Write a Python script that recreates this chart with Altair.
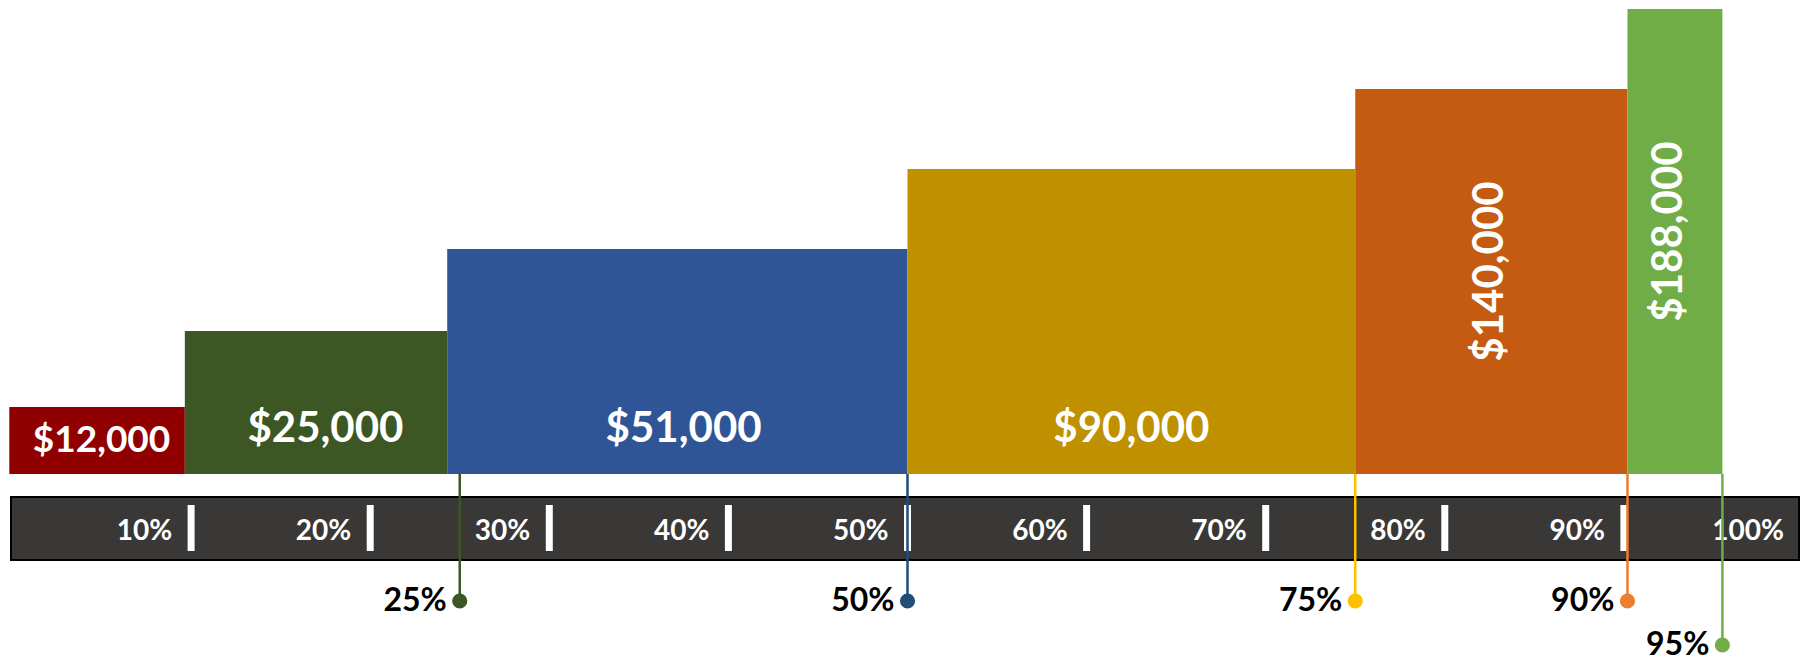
import altair as alt
import pandas as pd

# ---- data ----
income_labels = ["$12,000", "$25,000", "$51,000", "$90,000", "$140,000", "$188,000"]
incomes = [12000, 25000, 51000, 90000, 140000, 188000]
bracket_lo = [0, 10, 25, 50, 75, 90]
bracket_hi = [10, 25, 50, 75, 90, 95]
bar_left = [-0.15, 9.65, 24.3, 50.0, 75.0, 90.2]
bar_right = [9.65, 24.3, 50.0, 75.0, 90.2, 95.5]
bar_height = [67, 143, 225, 305, 385, 465]

tick_values = [10, 20, 30, 40, 50, 60, 70, 80, 90, 100]
tick_labels = ["10%", "20%", "30%", "40%", "50%", "60%", "70%", "80%", "90%", "100%"]

marker_labels = ["25%", "50%", "75%", "90%", "95%"]
marker_pos = [25.0, 50.0, 75.0, 90.2, 95.5]
marker_row = [0, 0, 0, 0, 1]

# ---- styles ----
bar_colors = ["#900000", "#3c5724", "#2f5597", "#bf9000", "#c55a11", "#70ad47"]
marker_colors = ["#3c5724", "#1f4e79", "#ffc000", "#ed7d31", "#70ad47"]
FONT = "Lato"

bars_df = pd.DataFrame({
    "income_label": income_labels,
    "income": incomes,
    "lo": bracket_lo,
    "hi": bracket_hi,
    "left": bar_left,
    "right": bar_right,
    "height": bar_height,
})
ticks_df = pd.DataFrame({"tick": tick_values, "tick_label": tick_labels})
markers_df = pd.DataFrame({"pct_label": marker_labels, "pos": marker_pos, "row": marker_row})

xscale = alt.Scale(domain=[-0.2233, 99.833], nice=False, zero=False)
yscale = alt.Scale(domain=[-182, 466], nice=False, zero=False)

bar_color = alt.Color("income_label:N",
                      scale=alt.Scale(domain=income_labels, range=bar_colors),
                      legend=None)
marker_color = alt.Color("pct_label:N",
                         scale=alt.Scale(domain=marker_labels, range=marker_colors),
                         legend=None)

base_bars = alt.Chart(bars_df).transform_calculate(
    base="0",
    mid="(datum.lo + datum.hi) / 2",
    ly="datum.income >= 140000 ? datum.height / 2 + 10 : min(datum.height / 2, 45)",
    fs="datum.income == 12000 ? 37 : 42",
)

bars = base_bars.mark_rect().encode(
    x=alt.X("left:Q", scale=xscale, axis=None),
    x2="right:Q",
    y=alt.Y("height:Q", scale=yscale, axis=None),
    y2="base:Q",
    color=bar_color,
)

h_labels = base_bars.transform_filter("datum.income < 140000").mark_text(
    font=FONT, fontWeight="bold", color="white", align="center", baseline="middle"
).encode(
    x=alt.X("mid:Q", scale=xscale, axis=None),
    y=alt.Y("ly:Q", scale=yscale, axis=None),
    text="income_label:N",
    size=alt.Size("fs:Q", scale=None, legend=None),
)

v_labels = base_bars.transform_filter("datum.income >= 140000").mark_text(
    font=FONT, fontWeight="bold", color="white", align="center", baseline="middle",
    angle=270, fontSize=42
).encode(
    x=alt.X("mid:Q", scale=xscale, axis=None),
    y=alt.Y("ly:Q", scale=yscale, axis=None),
    text="income_label:N",
)

band = alt.Chart(pd.DataFrame({"k": [0]})).transform_calculate(
    bx="-0.056", bx2="99.78", by="-23", by2="-86"
).mark_rect(
    fill="#3a3837", stroke="#000000", strokeWidth=2
).encode(
    x=alt.X("bx:Q", scale=xscale, axis=None),
    x2="bx2:Q",
    y=alt.Y("by:Q", scale=yscale, axis=None),
    y2="by2:Q",
)

ticks_base = alt.Chart(ticks_df).transform_calculate(
    ty="-31", ty2="-77", ly="-58"
)

tick_marks = ticks_base.transform_filter("datum.tick < 100").mark_rule(
    color="white", strokeWidth=7
).encode(
    x=alt.X("tick:Q", scale=xscale, axis=None),
    y=alt.Y("ty:Q", scale=yscale, axis=None),
    y2="ty2:Q",
)

tick_text = ticks_base.mark_text(
    font=FONT, fontWeight="bold", color="white", fontSize=28,
    align="right", baseline="middle", dx=-19
).encode(
    x=alt.X("tick:Q", scale=xscale, axis=None),
    y=alt.Y("ly:Q", scale=yscale, axis=None),
    text="tick_label:N",
)

marker_base = alt.Chart(markers_df).transform_calculate(
    top="0",
    dot_y="-127 - 44 * datum.row",
)

marker_lines = marker_base.mark_rule(strokeWidth=2.5).encode(
    x=alt.X("pos:Q", scale=xscale, axis=None),
    y=alt.Y("top:Q", scale=yscale, axis=None),
    y2="dot_y:Q",
    color=marker_color,
)

marker_dots = marker_base.mark_point(filled=True, size=230, opacity=1, shape="circle").encode(
    x=alt.X("pos:Q", scale=xscale, axis=None),
    y=alt.Y("dot_y:Q", scale=yscale, axis=None),
    color=marker_color,
)

marker_text = marker_base.mark_text(
    font=FONT, fontWeight="bold", color="black", fontSize=32,
    align="right", baseline="middle", dx=-13
).encode(
    x=alt.X("pos:Q", scale=xscale, axis=None),
    y=alt.Y("dot_y:Q", scale=yscale, axis=None),
    text="pct_label:N",
)

chart = alt.layer(
    bars, band, tick_marks, tick_text, marker_lines, marker_dots, marker_text,
    h_labels, v_labels
).resolve_scale(
    color="independent"
).properties(
    width=1792, height=648,
    autosize=alt.AutoSizeParams(type="none"),
    padding=0,
    background="white",
).configure_view(stroke=None)

chart.save("out.html", embed_options={"renderer": "svg", "actions": False})
